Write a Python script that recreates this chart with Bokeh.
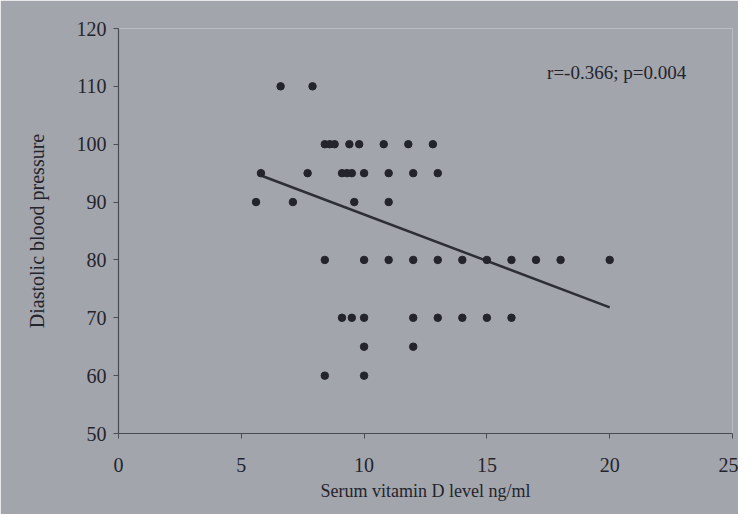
from bokeh.plotting import figure
from bokeh.models import Range1d, Label, FixedTicker
from bokeh.embed import file_html
from bokeh.resources import INLINE

# Data (serum vitamin D ng/ml vs diastolic BP)
x_110 = [6.6, 7.9]
x_100 = [8.4, 8.6, 8.8, 9.4, 9.8, 10.8, 11.8, 12.8]
x_95 = [5.8, 7.7, 9.1, 9.3, 9.5, 10.0, 11.0, 12.0, 13.0]
x_90 = [5.6, 7.1, 9.6, 11.0]
x_80 = [8.4, 10.0, 11.0, 12.0, 13.0, 14.0, 15.0, 16.0, 17.0, 18.0, 20.0]
x_70 = [9.1, 9.5, 10.0, 12.0, 13.0, 14.0, 15.0, 16.0]
x_65 = [10.0, 12.0]
x_60 = [8.4, 10.0]

vit_d = x_110 + x_100 + x_95 + x_90 + x_80 + x_70 + x_65 + x_60
dbp = ([110] * len(x_110) + [100] * len(x_100) + [95] * len(x_95) + [90] * len(x_90)
       + [80] * len(x_80) + [70] * len(x_70) + [65] * len(x_65) + [60] * len(x_60))

fit_x = [5.8, 20.0]
fit_y = [94.6, 71.8]

x_ticks = [0, 5, 10, 15, 20, 25]
y_ticks = [50, 60, 70, 80, 90, 100, 110, 120]
annotation = "r=-0.366; p=0.004"

BG = "#a3a5ad"
INK = "#24242c"
SERIF = "Liberation Serif"

p = figure(width=738, height=514, output_backend="svg", toolbar_location=None,
           x_range=Range1d(0, 25), y_range=Range1d(50, 120),
           min_border_left=118, min_border_right=6, min_border_top=28, min_border_bottom=81)
p.background_fill_color = BG
p.border_fill_color = BG
p.outline_line_color = None
p.grid.visible = False

for ax in (p.xaxis[0], p.yaxis[0]):
    ax.axis_line_color = "#4a4c54"
    ax.axis_line_width = 1.2
    ax.major_tick_line_color = "#4a4c54"
    ax.minor_tick_line_color = None
    ax.major_tick_in = 0
    ax.major_tick_out = 5
    ax.major_label_text_font = SERIF
    ax.major_label_text_font_size = "20px"
    ax.major_label_text_color = INK
    ax.axis_label_text_font = SERIF
    ax.axis_label_text_font_style = "normal"
    ax.axis_label_text_color = INK

p.xaxis.ticker = FixedTicker(ticks=x_ticks)
p.yaxis.ticker = FixedTicker(ticks=y_ticks)
p.xaxis.major_label_standoff = 19
p.yaxis.major_label_standoff = 7
p.xaxis.axis_label = "Serum vitamin D level ng/ml"
p.yaxis.axis_label = "Diastolic blood pressure"
p.xaxis.axis_label_text_font_size = "18px"
p.yaxis.axis_label_text_font_size = "20px"
p.xaxis.axis_label_standoff = 6
p.yaxis.axis_label_standoff = 26

p.line(fit_x, fit_y, line_color="#2e2e36", line_width=2.5)
p.scatter(vit_d, dbp, size=7.5, color=INK)

p.add_layout(Label(x=17.45, y=112.4, text=annotation, text_font=SERIF,
                   text_font_size="19px", text_color=INK, text_baseline="middle"))

open("out.html", "w").write(file_html(p, INLINE))
